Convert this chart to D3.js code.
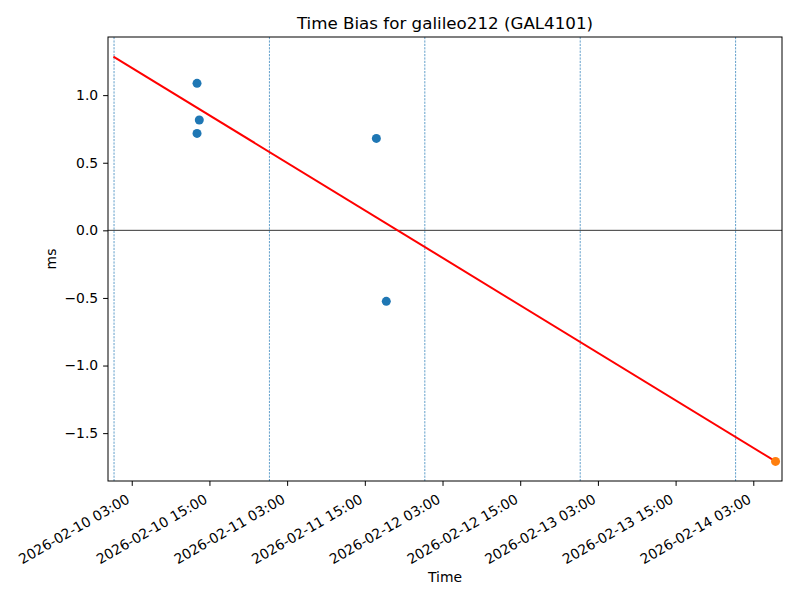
<!DOCTYPE html>
<html>
<head>
<meta charset="utf-8">
<script src="https://cdn.jsdelivr.net/npm/d3@7"></script>
<style>
  body { margin: 0; background: #fff; }
  svg { display: block; font-family: "DejaVu Sans", sans-serif; }
</style>
</head>
<body>
<svg id="chart" width="800" height="600"></svg>
<script>
// ---- data ----
const title = "Time Bias for galileo212 (GAL4101)";
const xLabel = "Time";
const yLabel = "ms";

const pointTimes = ["2026-02-10T13:05", "2026-02-10T13:26", "2026-02-10T13:05", "2026-02-11T16:47", "2026-02-11T18:19"];
const pointValues = [1.087, 0.816, 0.717, 0.680, -0.525];

const lastTimes = ["2026-02-14T06:26"];
const lastValues = [-1.709];

const fitTimes = ["2026-02-10T00:10", "2026-02-14T06:26"];
const fitValues = [1.285, -1.709];

const dayLines = ["2026-02-10T00:16", "2026-02-11T00:16", "2026-02-12T00:16", "2026-02-13T00:16", "2026-02-14T00:16"];

const xDomain = ["2026-02-09T23:20", "2026-02-14T07:26"];
const yDomain = [-1.854, 1.43];

const xTickTimes = ["2026-02-10T03:00", "2026-02-10T15:00", "2026-02-11T03:00", "2026-02-11T15:00",
                    "2026-02-12T03:00", "2026-02-12T15:00", "2026-02-13T03:00", "2026-02-13T15:00",
                    "2026-02-14T03:00"];
const yTickValues = [-1.5, -1.0, -0.5, 0.0, 0.5, 1.0];

// ---- layout ----
const parse = d3.utcParse("%Y-%m-%dT%H:%M");
const fmt = d3.utcFormat("%Y-%m-%d %H:%M");
const L = 108, R = 782, T = 37, B = 481;

const svg = d3.select("#chart");
const x = d3.scaleUtc().domain(xDomain.map(parse)).range([L, R]);
const y = d3.scaleLinear().domain(yDomain).range([B, T]);

// day lines
svg.append("g").selectAll("line").data(dayLines.map(parse)).join("line")
  .attr("x1", d => x(d)).attr("x2", d => x(d))
  .attr("y1", T).attr("y2", B)
  .attr("stroke", "#1f77b4").attr("stroke-width", 0.7)
  .attr("stroke-dasharray", "2.2,1.2");

// zero line
svg.append("line")
  .attr("x1", L).attr("x2", R).attr("y1", y(0)).attr("y2", y(0))
  .attr("stroke", "#000").attr("stroke-width", 0.8);

// fit line
const fit = fitTimes.map((t, i) => [parse(t), fitValues[i]]);
svg.append("path")
  .attr("d", d3.line().x(d => x(d[0])).y(d => y(d[1]))(fit))
  .attr("fill", "none").attr("stroke", "red").attr("stroke-width", 2);

// points
svg.append("g").selectAll("circle").data(pointTimes.map((t, i) => [parse(t), pointValues[i]])).join("circle")
  .attr("cx", d => x(d[0])).attr("cy", d => y(d[1])).attr("r", 4.5)
  .attr("fill", "#1f77b4");
svg.append("g").selectAll("circle").data(lastTimes.map((t, i) => [parse(t), lastValues[i]])).join("circle")
  .attr("cx", d => x(d[0])).attr("cy", d => y(d[1])).attr("r", 4.5)
  .attr("fill", "#ff7f0e");

// frame
svg.append("rect").attr("x", L).attr("y", T).attr("width", R - L).attr("height", B - T)
  .attr("fill", "none").attr("stroke", "#000").attr("stroke-width", 1);

// x axis
const xg = svg.append("g").attr("transform", `translate(0,${B})`)
  .call(d3.axisBottom(x).tickValues(xTickTimes.map(parse)).tickFormat(fmt).tickSize(4.9).tickPadding(4.9));
xg.select(".domain").remove();
xg.selectAll(".tick line").attr("stroke", "#000").attr("stroke-width", 1);
xg.selectAll(".tick text")
  .attr("font-size", "13.9px").attr("fill", "#000")
  .attr("font-family", "DejaVu Sans")
  .attr("text-anchor", "end")
  .attr("y", 0).attr("dy", 0)
  .attr("transform", "translate(-1.6,21) rotate(-30)");

// y axis
const yg = svg.append("g").attr("transform", `translate(${L},0)`)
  .call(d3.axisLeft(y).tickValues(yTickValues).tickFormat(d3.format(".1f")).tickSize(4.9).tickPadding(4.9));
yg.select(".domain").remove();
yg.selectAll(".tick line").attr("stroke", "#000").attr("stroke-width", 1);
yg.selectAll(".tick text").attr("font-size", "13.9px").attr("fill", "#000").attr("font-family", "DejaVu Sans");

// labels
svg.append("text").attr("x", (L + R) / 2).attr("y", 29).attr("text-anchor", "middle")
  .attr("font-size", "16.7px").text(title);
svg.append("text").attr("x", (L + R) / 2).attr("y", 582).attr("text-anchor", "middle")
  .attr("font-size", "13.9px").text(xLabel);
svg.append("text").attr("transform", `translate(56,${(T + B) / 2}) rotate(-90)`).attr("text-anchor", "middle")
  .attr("font-size", "13.9px").text(yLabel);
</script>
</body>
</html>
